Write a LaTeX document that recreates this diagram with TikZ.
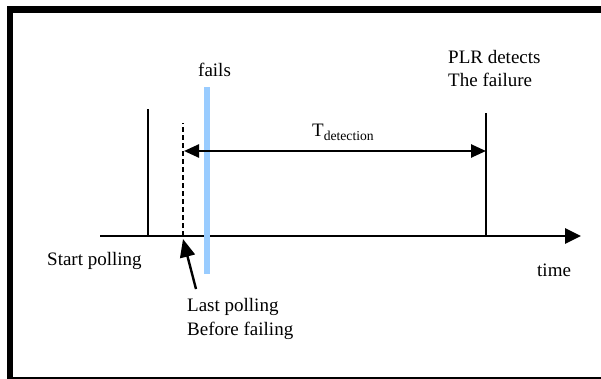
\documentclass[tikz,border=0pt]{standalone}
\usepackage{fontspec}
\setmainfont{Liberation Serif}
\usetikzlibrary{arrows.meta}
\definecolor{failblue}{HTML}{99CCFF}

\begin{document}
\begin{tikzpicture}[x=1pt,y=-1pt,
  lbl/.style={anchor=base west, inner sep=0pt, font=\fontsize{19}{23}\selectfont},
  tickline/.style={line width=2.5pt},
]
\useasboundingbox (0,0) rectangle (601,379);

% thick outer frame; only its top, left and bottom sides fall inside the page
\begin{scope}
  \clip (0,0) rectangle (601,379);
  \draw[line width=6.5pt, line join=miter] (640,9.5) -- (10,9.5) -- (10,380) -- (640,380);
\end{scope}

% time axis
\coordinate (ax0) at (100,236);
\coordinate (ax1) at (581,236);
\draw[line width=2.8pt, -{Triangle[length=16pt,width=15pt]}] (ax0) -- (ax1);

% start of polling
\coordinate (sp0) at (148,236);
\coordinate (sp1) at (148,109);
\draw[tickline] (sp0) -- (sp1);

% last polling before the failure
\coordinate (lp0) at (183,236);
\coordinate (lp1) at (183,123);
\draw[line width=2.2pt, dash pattern=on 5pt off 3pt] (lp0) -- (lp1);

% moment of failure
\fill[failblue] (204,87) rectangle (210,274);

% detection by PLR
\coordinate (dt0) at (486,236);
\coordinate (dt1) at (486,113);
\draw[tickline] (dt0) -- (dt1);

% detection interval
\coordinate (ia) at (184,151);
\coordinate (ib) at (486,151);
\draw[line width=2.5pt, {Triangle[length=15pt,width=13pt]}-{Triangle[length=15pt,width=13pt]}] (ia) -- (ib);
\node[lbl] (tdet) at (312,137) {T\raisebox{-4pt}{\fontsize{13.6}{14}\selectfont detection}};

% labels
\node[lbl] (fails) at (198,77) {fails};
\node[lbl] (plr1) at (448,64) {PLR detects};
\node[lbl] (plr2) at (448,87) {The failure};
\node[lbl] (start) at (47,265) {Start polling};
\node[lbl] (time) at (537,276) {time};
\node[lbl] (last1) at (187,311) {Last polling};
\node[lbl] (last2) at (187,335) {Before failing};

% pointer to the last polling
\coordinate (pt) at (183,239);
\coordinate (pf) at (196,289);
\draw[line width=2.4pt, -{Triangle[length=18pt,width=15pt]}] (pf) -- (pt);
\end{tikzpicture}
\end{document}
